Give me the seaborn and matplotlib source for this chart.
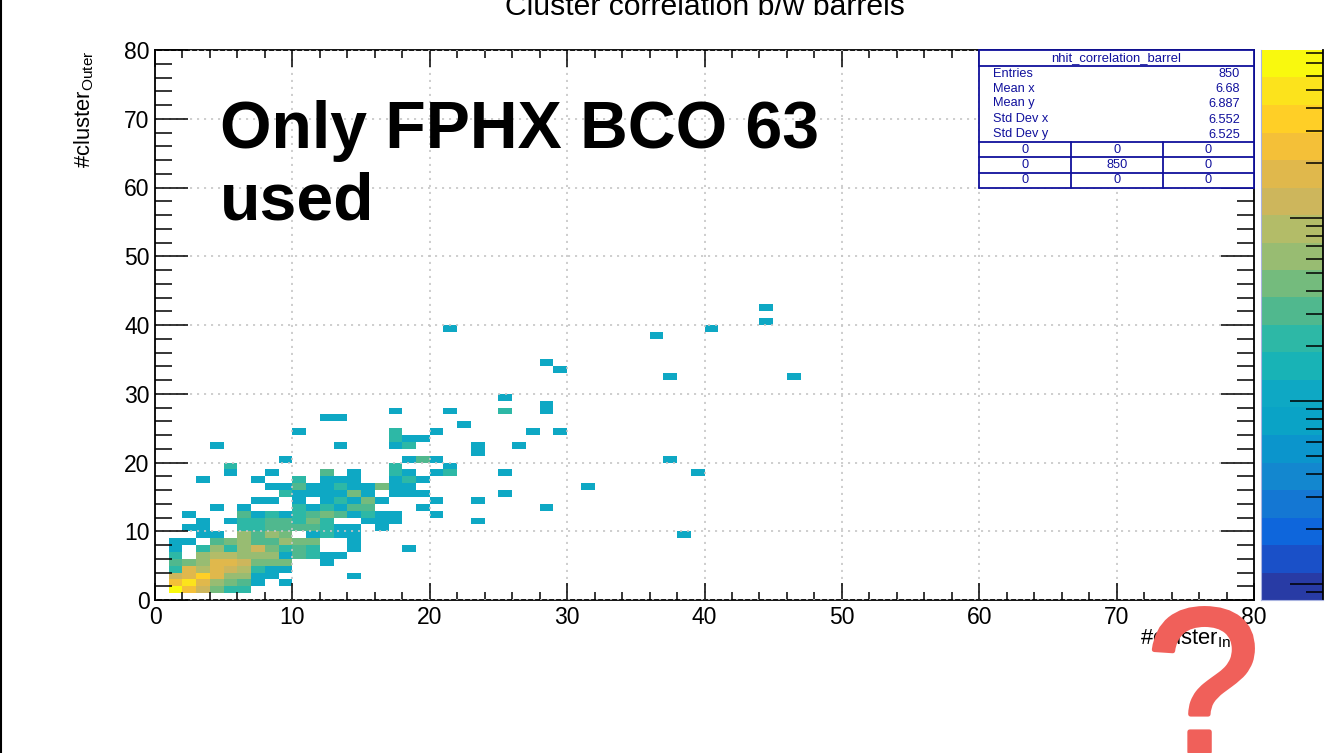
import matplotlib
matplotlib.use("Agg")
import matplotlib.pyplot as plt
import matplotlib.patheffects as pe
import numpy as np
import seaborn as sns
from matplotlib.colors import ListedColormap, LogNorm
from matplotlib.lines import Line2D
from matplotlib.patches import Rectangle

# Counts per bin, one list per outer bin, starting at inner bin 1
outer_01 = [60, 25, 12, 4, 2, 2]
outer_02 = [25, 50, 17, 6, 4, 3, 1, 0, 1]
outer_03 = [12, 17, 35, 17, 6, 6, 1, 1, 0, 0, 0, 0, 0, 1]
outer_04 = [2, 17, 8, 17, 12, 8, 2, 1, 1]
outer_05 = [3, 4, 6, 17, 17, 12, 4, 4, 4, 0, 0, 1]
outer_06 = [2, 0, 6, 8, 8, 6, 6, 6, 1, 3, 2, 1, 1]
outer_07 = [1, 0, 2, 6, 2, 6, 12, 4, 2, 3, 2, 0, 0, 1, 0, 0, 0, 1]
outer_08 = [1, 1, 0, 3, 4, 6, 3, 3, 6, 4, 4, 0, 0, 1]
outer_09 = [0, 0, 1, 1, 0, 6, 3, 6, 4, 0, 1, 2, 1, 1]
outer_10 = [0, 1, 1, 0, 0, 2, 2, 3, 3, 3, 3, 2, 1, 1, 0, 1]
outer_11 = [0, 0, 1, 0, 1, 2, 2, 3, 3, 2, 4, 2, 0, 0, 1, 1, 1]
outer_12 = [0, 1, 0, 0, 0, 3, 1, 2, 1, 2, 3, 4, 3, 1, 2, 1, 1, 0, 0, 1]
outer_13 = [0, 0, 0, 1, 0, 1, 0, 0, 0, 2, 1, 2, 1, 3, 3, 0, 0, 0, 1]
outer_14 = [0, 0, 0, 0, 0, 0, 1, 1, 0, 1, 0, 1, 2, 1, 4, 1, 0, 0, 0, 1]
outer_15 = [0, 0, 0, 0, 0, 0, 0, 0, 2, 1, 1, 1, 1, 4, 1, 0, 1, 1, 1]
outer_16 = [0, 0, 0, 0, 0, 0, 0, 1, 1, 3, 1, 1, 2, 1, 1, 4, 1, 1]
outer_17 = [0, 0, 1, 0, 0, 0, 1, 0, 0, 2, 0, 1, 1, 1, 0, 0, 1, 2, 1]
dense_rows = [outer_01, outer_02, outer_03, outer_04, outer_05, outer_06,
              outer_07, outer_08, outer_09, outer_10, outer_11, outer_12,
              outer_13, outer_14, outer_15, outer_16, outer_17]

# Isolated bins away from the dense corner
sparse_inner = [38, 23, 28, 23, 25, 31, 5, 8, 12, 14, 17, 18, 20, 21, 25, 39,
                5, 17, 21, 9, 18, 19, 20, 37, 23, 4, 13, 17, 18, 23, 26,
                17, 18, 19, 10, 17, 20, 27, 29, 22, 12, 13, 17, 21, 25, 28,
                28, 25, 37, 46, 29, 28, 36, 21, 40, 44, 44]
sparse_outer = [9, 11, 13, 14, 15, 16, 18, 18, 18, 18, 18, 18, 18, 18, 18, 18,
                19, 19, 19, 20, 20, 20, 20, 20, 21, 22, 22, 22, 22, 22, 22,
                23, 23, 23, 24, 24, 24, 24, 24, 25, 26, 26, 27, 27, 27, 27,
                28, 29, 32, 32, 33, 34, 38, 39, 39, 40, 42]
sparse_count = [1, 1, 1, 1, 1, 1, 1, 1, 3, 1, 2, 1, 1, 2, 1, 1,
                2, 2, 1, 1, 1, 3, 1, 1, 1, 1, 1, 1, 2, 1, 1,
                2, 1, 1, 1, 2, 1, 1, 1, 1, 1, 1, 1, 1, 2, 1,
                1, 1, 1, 1, 1, 1, 1, 1, 1, 1, 1]

palette = ["#283ba5", "#1a50c8", "#0e66dc", "#1477d3", "#1387cf", "#0b95cc",
           "#0aa3c6", "#0ea8c4", "#18b3b6", "#2db8a6", "#50b88e", "#74bb7d",
           "#98bc72", "#b3bc68", "#cdb65c", "#e0b84c", "#f4c038", "#ffcf26",
           "#fce31c", "#f9f90e"]

axis_ticks = [0, 10, 20, 30, 40, 50, 60, 70, 80]

title_text = "Cluster correlation b/w barrels"
note_lines = ["Only FPHX BCO 63", "used"]
stats_title = "nhit_correlation_barrel"
stats_names = ["Entries", "Mean x", "Mean y", "Std Dev x", "Std Dev y"]
stats_values = ["850", "6.68", "6.887", "6.552", "6.525"]
overflow_row1 = ["0", "0", "0"]
overflow_row2 = ["0", "850", "0"]
overflow_row3 = ["0", "0", "0"]

W, H = 1331, 753
BLUE = "#10109c"


def fx(px):
    return px / W


def fy(py):
    return 1 - py / H


def px_axes(left, top, right, bottom):
    return [fx(left), fy(bottom), (right - left) / W, (bottom - top) / H]


def build_grid():
    grid = np.zeros((80, 80))
    for i, row in enumerate(dense_rows):
        grid[i + 1, 1:len(row) + 1] = row
    for x, y, c in zip(sparse_inner, sparse_outer, sparse_count):
        grid[y, x] = c
    return grid


def draw_stats_box(fig):
    """ROOT style stats box, drawn in figure pixels."""
    # white backing hides the ticks and grid under the box
    fig.add_artist(Rectangle((fx(979), fy(188)), 275 / W, 138 / H, transform=fig.transFigure,
                             facecolor="white", edgecolor="none", zorder=1))
    for y in [50, 65.7, 141.7, 157, 172.7, 187.7]:
        fig.add_artist(Line2D([fx(979), fx(1254)], [fy(y), fy(y)], color=BLUE, lw=1.3))
    for x, y0, y1 in [(979, 50, 188), (1254, 50, 188), (1071, 142, 188), (1163, 142, 188)]:
        fig.add_artist(Line2D([fx(x), fx(x)], [fy(y0), fy(y1)], color=BLUE, lw=1.3))

    fig.text(fx(1116), fy(58), stats_title, color=BLUE, fontsize=9.4, ha="center", va="center")
    name_y = [74, 88.5, 103, 119.5, 134]
    value_y = [74, 89, 104, 120, 135]
    for name, value, ny, vy in zip(stats_names, stats_values, name_y, value_y):
        fig.text(fx(993), fy(ny), name, color=BLUE, fontsize=9.2, ha="left", va="center")
        fig.text(fx(1240), fy(vy), value, color=BLUE, fontsize=9.2, ha="right", va="center")
    rows = [overflow_row1, overflow_row2, overflow_row3]
    for row, y in zip(rows, [150, 165, 180]):
        for cell, x in zip(row, [1025, 1117, 1208]):
            fig.text(fx(x), fy(y), cell, color=BLUE, fontsize=9.2, ha="center", va="center")


def main():
    sns.set_theme(style="white")
    plt.rcParams["font.family"] = ["Liberation Sans", "DejaVu Sans"]
    plt.rcParams["mathtext.default"] = "regular"
    plt.rcParams["text.color"] = "black"
    plt.rcParams["xtick.labelcolor"] = "black"
    plt.rcParams["ytick.labelcolor"] = "black"

    fig = plt.figure(figsize=(W / 100, H / 100), dpi=100)
    ax = fig.add_axes(px_axes(155, 50, 1254, 600))
    cax = fig.add_axes(px_axes(1261, 50, 1323, 600))

    grid = build_grid()
    norm = LogNorm(vmin=0.0817, vmax=82.8)
    sns.heatmap(grid, mask=grid == 0, cmap=ListedColormap(palette), norm=norm,
                ax=ax, cbar_ax=cax, xticklabels=False, yticklabels=False)

    # heatmap flips y, put the origin back at the bottom
    ax.set_xlim(0, 80)
    ax.set_ylim(0, 80)
    ax.set_facecolor("white")

    ax.set_xticks(axis_ticks)
    ax.set_yticks(axis_ticks)
    ax.set_xticklabels(axis_ticks)
    ax.set_yticklabels(axis_ticks)
    ax.set_xticks(np.arange(0, 81, 2), minor=True)
    ax.set_yticks(np.arange(0, 81, 2), minor=True)

    ax.tick_params(axis="x", which="major", direction="in", length=12, width=1.1,
                   top=True, bottom=True, labelsize=16.5, pad=4, color="black")
    ax.tick_params(axis="x", which="minor", direction="in", length=6, width=1.1,
                   top=True, bottom=True, color="black")
    ax.tick_params(axis="y", which="major", direction="in", length=24, width=1.1,
                   left=True, right=True, labelsize=16.5, pad=4, color="black")
    ax.tick_params(axis="y", which="minor", direction="in", length=12, width=1.1,
                   left=True, right=True, color="black")

    ax.set_axisbelow(False)
    ax.grid(True, which="major", color="#c6c6c6", lw=1.2, linestyle=(0, (1.25, 2.95)))
    for side, spine in ax.spines.items():
        spine.set_visible(True)
        spine.set_color("black")
        spine.set_linewidth(1.3)
        spine.set_zorder(5 if side in ("left", "right") else 2)

    # colour scale, ticks only, labels fall off the page in the original
    cbar = ax.collections[0].colorbar
    cbar.outline.set_visible(False)
    cbar.set_ticks([0.1, 1, 10])
    minor = [m * d for d in (0.01, 0.1, 1, 10) for m in range(2, 10)]
    minor = [v for v in minor if 0.0817 < v < 82.8]
    cax.yaxis.set_ticks(minor, minor=True)
    cax.set_axisbelow(False)
    cax.tick_params(which="major", direction="in", length=24, width=1.1, right=True,
                    labelright=False, color="black")
    cax.tick_params(which="minor", direction="in", length=12, width=1.1, right=True,
                    color="black")
    cax.spines["right"].set_visible(True)
    cax.spines["right"].set_color("black")
    cax.spines["right"].set_linewidth(1.3)
    for side in ("left", "bottom"):
        cax.spines[side].set_visible(True)
        cax.spines[side].set_color("#aab4e0")
        cax.spines[side].set_linewidth(0.8)

    fig.text(fx(705), fy(15), title_text, fontsize=21.7, ha="center", va="baseline")
    fig.text(fx(1254), fy(644), "#cluster$_{Inner}$", fontsize=15.8, ha="right", va="baseline")
    fig.text(fx(84), fy(51), "#cluster$_{Outer}$", fontsize=15.8, rotation=90,
             ha="center", va="top")

    fig.text(fx(220), fy(148), note_lines[0], fontsize=47.6, fontweight="bold", ha="left", va="baseline")
    fig.text(fx(220), fy(220), note_lines[1], fontsize=47.6, fontweight="bold", ha="left", va="baseline")

    draw_stats_box(fig)

    fig.add_artist(Line2D([fx(1), fx(1)], [0, 1], color="black", lw=1.5))
    fig.text(fx(1203), fy(752), "?", fontsize=148, color="#f0605a", ha="center", va="baseline",
             path_effects=[pe.withStroke(linewidth=3.5, foreground="#f0605a")])

    fig.savefig("out.png", dpi=100)
    plt.close(fig)


if __name__ == "__main__":
    main()
